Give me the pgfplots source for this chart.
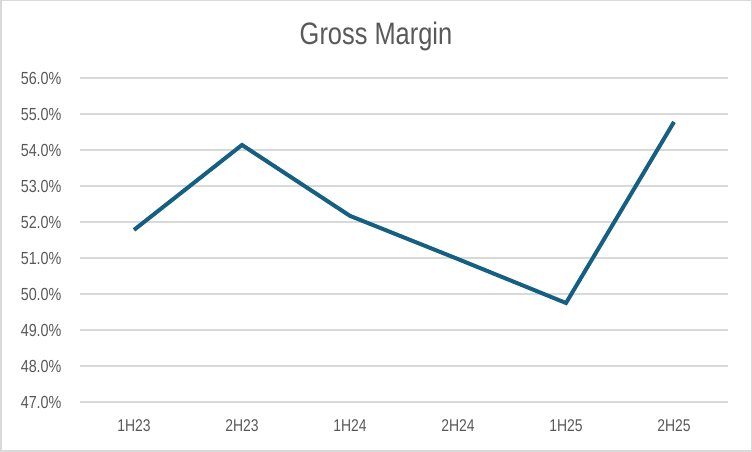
\documentclass[border=0pt]{standalone}
\usepackage{fontspec}
\setmainfont[FakeStretch=0.82]{Liberation Sans}
\usepackage{pgfplots}
\pgfplotsset{compat=1.18}
\definecolor{linecol}{HTML}{156082}
\definecolor{gridcol}{HTML}{D9D9D9}
\definecolor{txt}{HTML}{595959}

\begin{document}
\begin{tikzpicture}[x=1pt,y=1pt]
\fill[white] (0,0) rectangle (752,452);
\draw[gridcol, line width=1.5pt] (0.75,0.75) rectangle (751.25,451.25);
\node[txt, font=\fontsize{31}{36}\selectfont] at (376,416) {Gross Margin};
\begin{axis}[
  at={(80pt,50pt)}, anchor=south west,
  scale only axis,
  width=648pt, height=324pt,
  xmin=-0.5, xmax=5.5,
  ymin=47, ymax=56,
  xtick={0,...,5},
  xticklabels={1H23,2H23,1H24,2H24,1H25,2H25},
  ytick={47,48,...,56},
  yticklabel={\pgfmathprintnumber[fixed,fixed zerofill,precision=1]{\tick}\%},
  /pgf/number format/assume math mode=true,
  ymajorgrids=true,
  grid style={gridcol, line width=1.4pt},
  axis line style={draw=none},
  major tick length=0pt,
  tick label style={txt, font=\fontsize{17}{20}\selectfont},
  yticklabel style={xshift=-15pt, font=\fontsize{17.5}{20}\selectfont},
  xticklabel style={yshift=-14pt},
  clip=false,
]
\addplot[linecol, line width=4pt, line join=miter, mark=none] coordinates {
  (0,51.78) (1,54.14) (2,52.17) (3,50.97) (4,49.75) (5,54.78)
};
\end{axis}
\end{tikzpicture}
\end{document}
